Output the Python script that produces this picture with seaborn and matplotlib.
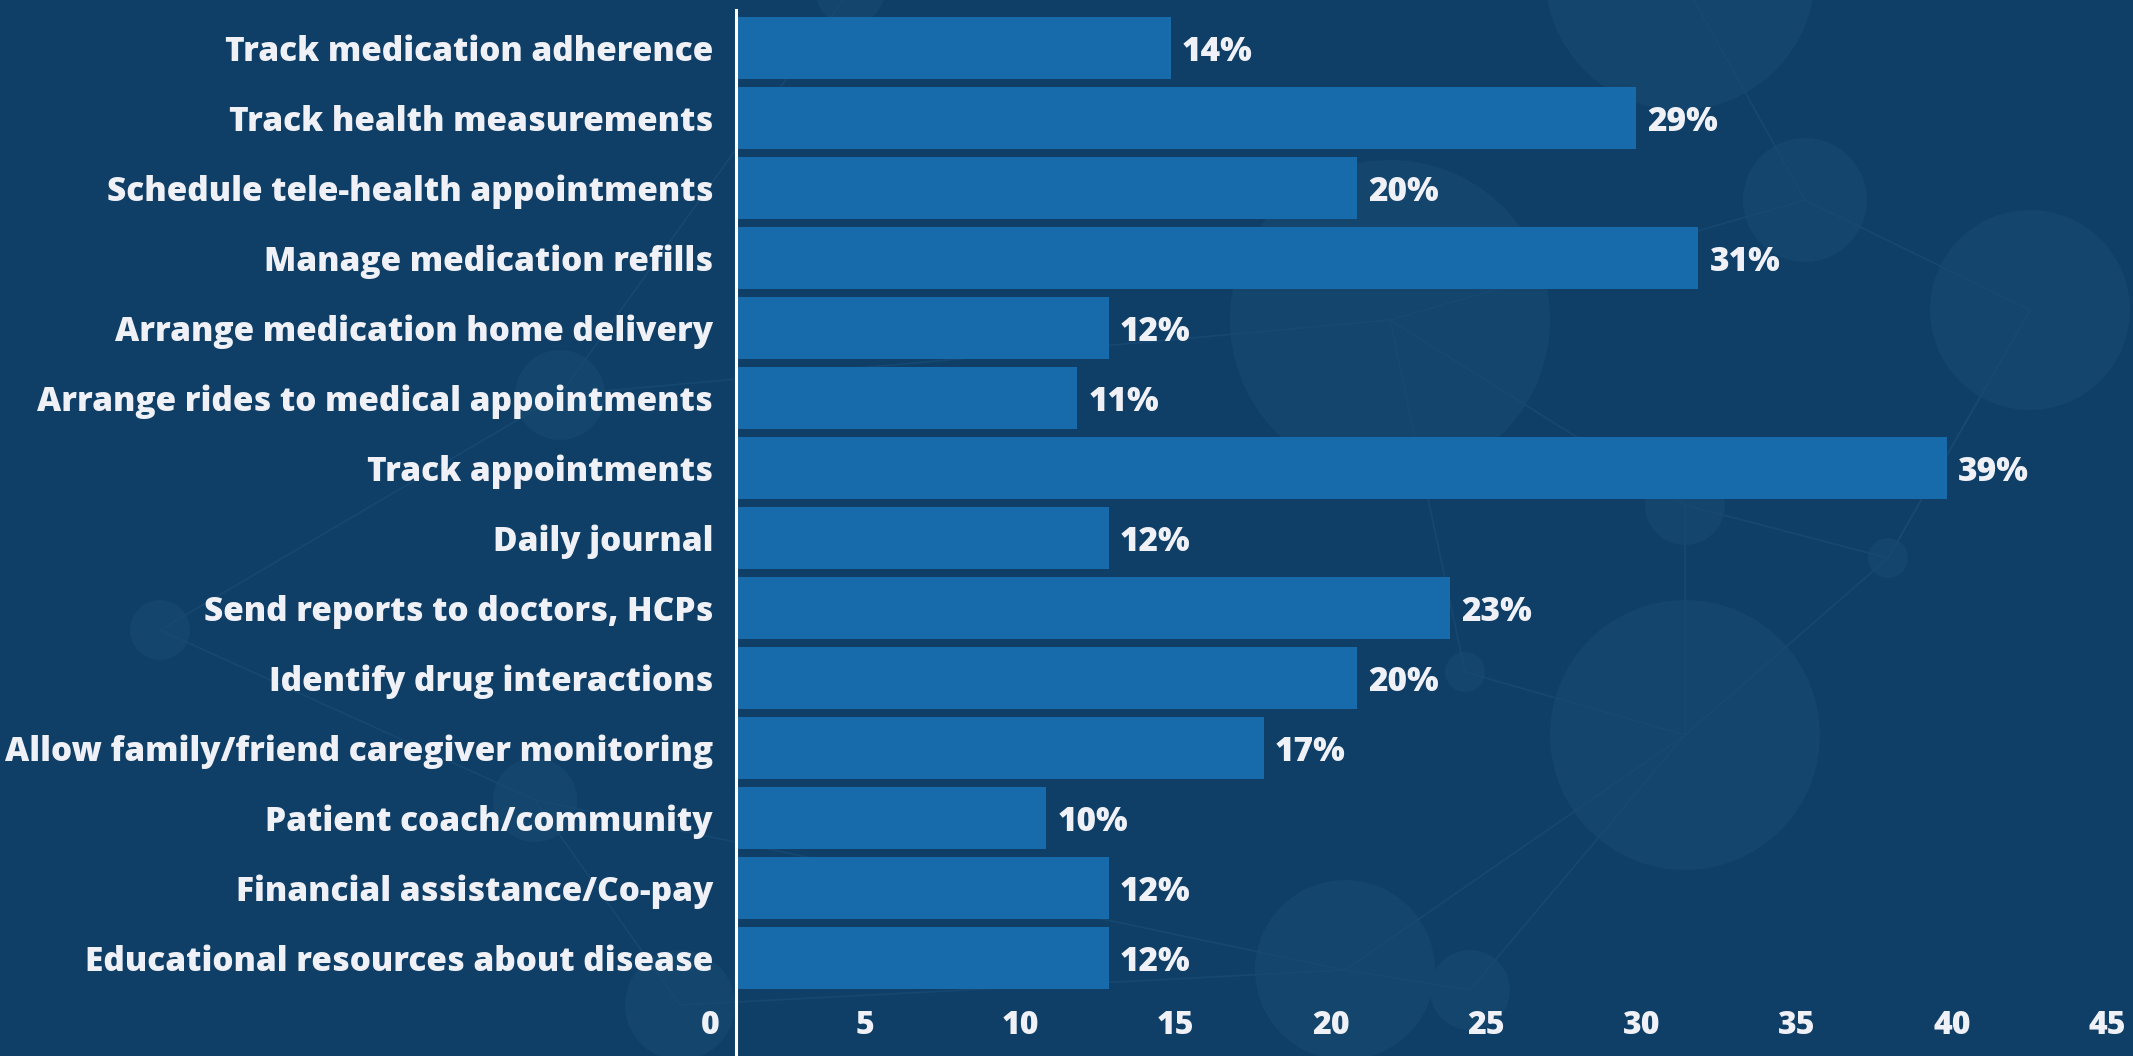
import matplotlib
matplotlib.use('Agg')
import matplotlib.pyplot as plt
import matplotlib.transforms as mtransforms
from matplotlib.patches import Circle
from matplotlib.lines import Line2D
import seaborn as sns
import pandas as pd

# data
features = ['Track medication adherence', 'Track health measurements',
            'Schedule tele-health appointments', 'Manage medication refills',
            'Arrange medication home delivery', 'Arrange rides to medical appointments',
            'Track appointments', 'Daily journal', 'Send reports to doctors, HCPs',
            'Identify drug interactions', 'Allow family/friend caregiver monitoring',
            'Patient coach/community', 'Financial assistance/Co-pay',
            'Educational resources about disease']
share = [14, 29, 20, 31, 12, 11, 39, 12, 23, 20, 17, 10, 12, 12]
x_ticks = [0, 5, 10, 15, 20, 25, 30, 35, 40, 45]

df = pd.DataFrame({'feature': features, 'share': share})

bg = '#0f3f67'
bar_col = '#176bab'
txt = '#f0f1f7'
deco = '#14456c'

sns.set_style('white')
plt.rcParams['font.family'] = ['Open Sans', 'DejaVu Sans']

W, H = 2133, 1056
fig = plt.figure(figsize=(W / 100, H / 100), dpi=100)
fig.patch.set_facecolor(bg)

# background network decoration
bgax = fig.add_axes([0, 0, 1, 1], zorder=0)
bgax.set_xlim(0, W)
bgax.set_ylim(H, 0)
bgax.axis('off')
nodes = [(1680, -25, 135), (1390, 320, 160), (2030, 310, 100), (1805, 200, 62),
         (1685, 735, 135), (1345, 970, 90), (160, 630, 30), (1888, 558, 20),
         (1685, 505, 40), (1465, 672, 20), (535, 800, 42), (560, 395, 45),
         (680, 1005, 55), (1470, 990, 40), (850, -10, 35)]
links = [(0, 3), (3, 2), (3, 1), (1, 8), (8, 4), (8, 7), (7, 2), (4, 9), (9, 1),
         (4, 5), (5, 13), (1, 11), (11, 6), (6, 10), (10, 12), (12, 5), (0, 14),
         (14, 11), (2, 7), (7, 4), (13, 4), (10, 5)]
for a, b in links:
    bgax.add_line(Line2D([nodes[a][0], nodes[b][0]], [nodes[a][1], nodes[b][1]],
                         color='#174a73', lw=1.2, alpha=0.8))
for cx, cy, r in nodes:
    bgax.add_patch(Circle((cx, cy), r, color=deco, lw=0))

# main chart
ax = fig.add_axes([736 / W, 0, (W - 736) / W, (H - 10) / H], zorder=1)
ax.patch.set_alpha(0)
sns.barplot(data=df, x='share', y='feature', orient='h', color=bar_col,
            saturation=1, width=0.886, edgecolor='none', linewidth=0, ax=ax)

ax.set_xlim(0, 45)
ax.set_ylim(14.4, -0.543)
ax.set_xlabel('')
ax.set_ylabel('')

for s in ['top', 'right', 'bottom']:
    ax.spines[s].set_visible(False)
ax.spines['left'].set_color('white')
ax.spines['left'].set_linewidth(2.2)

ax.set_xticks(x_ticks)
ax.set_xticklabels([str(t) for t in x_ticks])
ax.tick_params(axis='y', length=0, pad=16.5, labelsize=24, labelcolor=txt)
ax.tick_params(axis='x', length=0, pad=-33, labelsize=23, labelcolor=txt)
for lbl in ax.get_yticklabels():
    lbl.set_fontweight('heavy')
offset = mtransforms.ScaledTranslation(-0.26, 0, fig.dpi_scale_trans)
for lbl in ax.get_xticklabels():
    lbl.set_fontweight('heavy')
    lbl.set_transform(lbl.get_transform() + offset)

vals = ax.bar_label(ax.containers[0], labels=[f'{v}%' for v in share], padding=8,
                    color=txt, fontsize=24, fontweight='heavy')
# nudge value labels down a little
for t in vals:
    t.xyann = (t.xyann[0], t.xyann[1] - 3)

fig.savefig('out.png', dpi=100, facecolor=bg)
